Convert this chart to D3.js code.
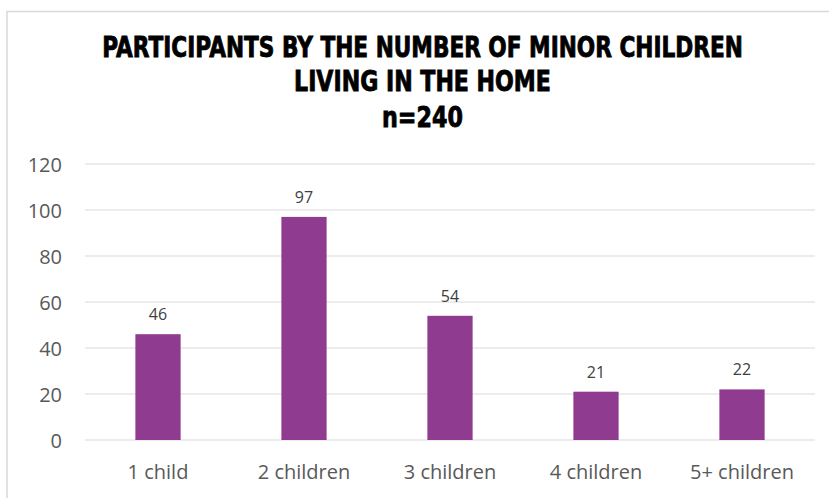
<!DOCTYPE html>
<html><head><meta charset="utf-8">
<script src="https://cdn.jsdelivr.net/npm/d3@7"></script>
<style>html,body{margin:0;padding:0;background:#fff;}</style>
</head><body>
<script>
const categories = ["1 child","2 children","3 children","4 children","5+ children"];
const values = [46, 97, 54, 21, 22];
const yTicks = [0,20,40,60,80,100,120];
const titleLines = ["PARTICIPANTS BY THE NUMBER OF MINOR CHILDREN","LIVING IN THE HOME","n=240"];

const W = 829, H = 498;
const svg = d3.select("body").append("svg").attr("width", W).attr("height", H);
svg.append("rect").attr("width", W).attr("height", H).attr("fill", "#fff");

// chart border
svg.append("path").attr("d", `M7,498 V11.5 H829`).attr("fill","none").attr("stroke","#d9d9d9").attr("stroke-width",1.5);

const x = d3.scaleBand().domain(categories).range([85, 815]).paddingInner(0.69).paddingOuter(0.345);
const y = d3.scaleLinear().domain([0,120]).range([440, 164]);

// gridlines
svg.append("g").selectAll("line").data(yTicks).join("line")
  .attr("x1", 85).attr("x2", 815)
  .attr("y1", d => y(d)).attr("y2", d => y(d))
  .attr("stroke", "#d9d9d9").attr("stroke-width", 1.2);

// y axis labels
const yAxis = d3.axisLeft(y).tickValues(yTicks).tickSize(0).tickPadding(0);
const ya = svg.append("g").attr("transform","translate(62,0)").call(yAxis);
ya.select(".domain").remove();
ya.selectAll("text").attr("font-family","'Open Sans', sans-serif").attr("font-size",20).attr("fill","#595959").attr("dy","0.35em");

// x axis labels
const xAxis = d3.axisBottom(x).tickSize(0).tickPadding(0);
const xa = svg.append("g").attr("transform","translate(0,465)").call(xAxis);
xa.select(".domain").remove();
xa.selectAll("text").attr("font-family","'Open Sans', sans-serif").attr("font-size",20).attr("fill","#595959").attr("dy","0.71em");

// bars
svg.append("g").selectAll("rect").data(values).join("rect")
  .attr("x", (d,i) => x(categories[i]))
  .attr("width", x.bandwidth())
  .attr("y", d => y(d))
  .attr("height", d => y(0) - y(d))
  .attr("fill", "#8f3b8f");

// value labels
svg.append("g").selectAll("text").data(values).join("text")
  .attr("x", (d,i) => x(categories[i]) + x.bandwidth()/2)
  .attr("y", d => y(d) - 14)
  .attr("text-anchor","middle")
  .attr("font-family","'Open Sans', sans-serif").attr("font-size",16)
  .attr("fill","#404040")
  .text(d => d);

// title (condensed heavy look via horizontal scaling)
const titleY = [57, 91, 127];
const titleW = [641, 257, 81];
const cx = 422.5;
titleLines.forEach((t, i) => {
  const g = svg.append("g");
  const txt = g.append("text")
    .attr("x", 0).attr("y", 0)
    .attr("text-anchor","middle")
    .attr("font-family","'DejaVu Sans', sans-serif")
    .attr("font-weight","bold")
    .attr("font-size",28)
    .attr("fill","#000")
    .attr("stroke","#000").attr("stroke-width",0.9)
    .text(t);
  const w = txt.node().getComputedTextLength();
  const s = titleW[i] / w;
  g.attr("transform", `translate(${cx},${titleY[i]}) scale(${s},1)`);
});
</script>
</body></html>
